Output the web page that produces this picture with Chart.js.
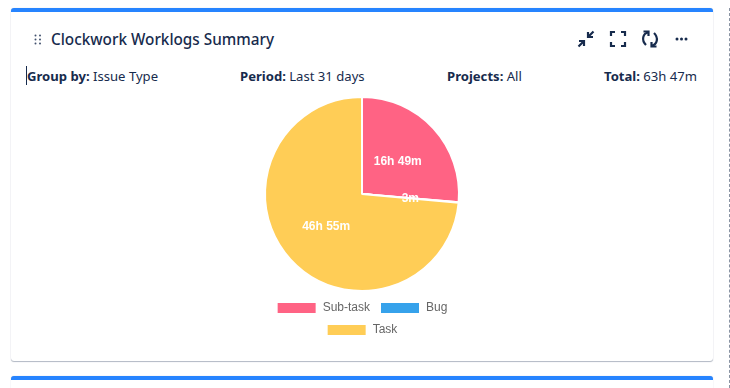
<!DOCTYPE html>
<html lang="en">
<head>
    <meta charset="UTF-8">
    <title>Clockwork Worklogs Summary</title>
    <script src="https://cdn.jsdelivr.net/npm/chart.js"></script>
    <style>
        html, body { margin: 0; padding: 0; background: #fff; }
        body { width: 730px; height: 388px; position: relative; overflow: hidden; font-family: "Noto Sans", sans-serif; color: #172b4d; }
        .card { position: absolute; left: 11px; width: 702px; box-sizing: border-box; background: #fff; border-top: 4px solid #2684ff; border-radius: 3px; }
        #card1 { top: 8px; height: 353px; box-shadow: 0 1px 1px rgba(9,30,66,.3), 0 0 1px rgba(9,30,66,.2); }
        #card2 { top: 376px; height: 60px; box-shadow: 0 0 1px rgba(9,30,66,.3); }
        .dashed { position: absolute; left: 729px; top: 8px; height: 380px; border-left: 1px dashed #8a94a3; }
        .title { position: absolute; left: 51px; top: 28px; font-size: 15.3px; font-weight: 500; line-height: 22px; white-space: nowrap; }
        .meta { position: absolute; top: 67px; font-size: 13.1px; line-height: 19px; white-space: nowrap; }
        .meta b { font-weight: 700; }
        .caret { position: absolute; left: 26px; top: 66px; width: 1px; height: 19px; background: #172b4d; }
        svg.icon { position: absolute; }
        #chartBox { position: absolute; left: 252px; top: 90px; width: 220px; height: 256px; }
    </style>
</head>
<body>
    <div class="card" id="card1"></div>
    <div class="card" id="card2"></div>
    <div class="dashed"></div>

    <svg class="icon" style="left:34px;top:34px" width="9" height="11" fill="#42526e">
        <circle cx="1.5" cy="1.5" r="1"/><circle cx="6" cy="1.5" r="1"/>
        <circle cx="1.5" cy="5.5" r="1"/><circle cx="6" cy="5.5" r="1"/>
        <circle cx="1.5" cy="9.5" r="1"/><circle cx="6" cy="9.5" r="1"/>
    </svg>
    <div class="title">Clockwork Worklogs Summary</div>

    <!-- header icons -->
    <svg class="icon" style="left:576px;top:29px" width="20" height="20" fill="none" stroke="#172b4d" stroke-width="2.2">
        <path d="M2.500 17.500 L7 13 M3 12 H8 V17" />
        <path d="M17.500 2.500 L13 7 M17 8 H12 V3" />
    </svg>
    <svg class="icon" style="left:608px;top:29px" width="20" height="20" fill="none" stroke="#172b4d" stroke-width="2.2">
        <path d="M3 7 V3 H7 M13 3 H17 V7 M17 13 V17 H13 M7 17 H3 V13" />
    </svg>
    <svg class="icon" style="left:640px;top:29px" width="20" height="20" fill="none" stroke="#172b4d" stroke-width="2.2">
        <path d="M8 3.500 C3 4.500 1 11 6 16" />
        <path d="M12 16.500 C17 15.500 19 9 14 4" />
        <path d="M3.500 2.500 H8.500 V7" />
        <path d="M16.500 17.500 H11.500 V13" />
    </svg>
    <svg class="icon" style="left:675px;top:36px" width="14" height="6" fill="#172b4d">
        <circle cx="2" cy="3" r="1.500"/><circle cx="6.500" cy="3" r="1.500"/><circle cx="11" cy="3" r="1.500"/>
    </svg>

    <div class="caret"></div>
    <div class="meta" style="left:27px"><b>Group by:</b> Issue Type</div>
    <div class="meta" style="left:240px"><b>Period:</b> Last 31 days</div>
    <div class="meta" style="left:447px"><b>Projects:</b> All</div>
    <div class="meta" style="left:604px"><b>Total:</b> 63h 47m</div>

    <div id="chartBox"><canvas id="worklogChart"></canvas></div>

    <script>
        const categories = ['Sub-task', 'Bug', 'Task'];
        const minutesLogged = [1009, 3, 2815];
        const sliceLabels = ['16h 49m', '3m', '46h 55m'];
        const sliceColors = ['#ff6384', '#36a2eb', '#ffcd56'];

        // draws the duration text in the middle of each slice
        const sliceLabelPlugin = {
            id: 'sliceLabels',
            afterDatasetsDraw(chart) {
                const ctx = chart.ctx;
                ctx.save();
                ctx.font = 'bold 12px "Liberation Sans", Arial, sans-serif';
                ctx.fillStyle = '#fff';
                ctx.textAlign = 'center';
                ctx.textBaseline = 'middle';
                chart.getDatasetMeta(0).data.forEach((arc, i) => {
                    const pos = arc.tooltipPosition();
                    ctx.fillText(sliceLabels[i], pos.x, pos.y);
                });
                ctx.restore();
            }
        };

        new Chart(document.getElementById('worklogChart'), {
            type: 'pie',
            data: {
                labels: categories,
                datasets: [{
                    data: minutesLogged,
                    backgroundColor: sliceColors,
                    borderColor: '#fff',
                    borderWidth: 2
                }]
            },
            options: {
                responsive: true,
                maintainAspectRatio: false,
                animation: false,
                layout: { padding: { top: 6 } },
                plugins: {
                    legend: {
                        position: 'bottom',
                        labels: {
                            font: { family: '"Liberation Sans", Arial, sans-serif', size: 12 },
                            color: '#666'
                        }
                    },
                    tooltip: { enabled: false }
                }
            },
            plugins: [sliceLabelPlugin]
        });
    </script>
</body>
</html>
